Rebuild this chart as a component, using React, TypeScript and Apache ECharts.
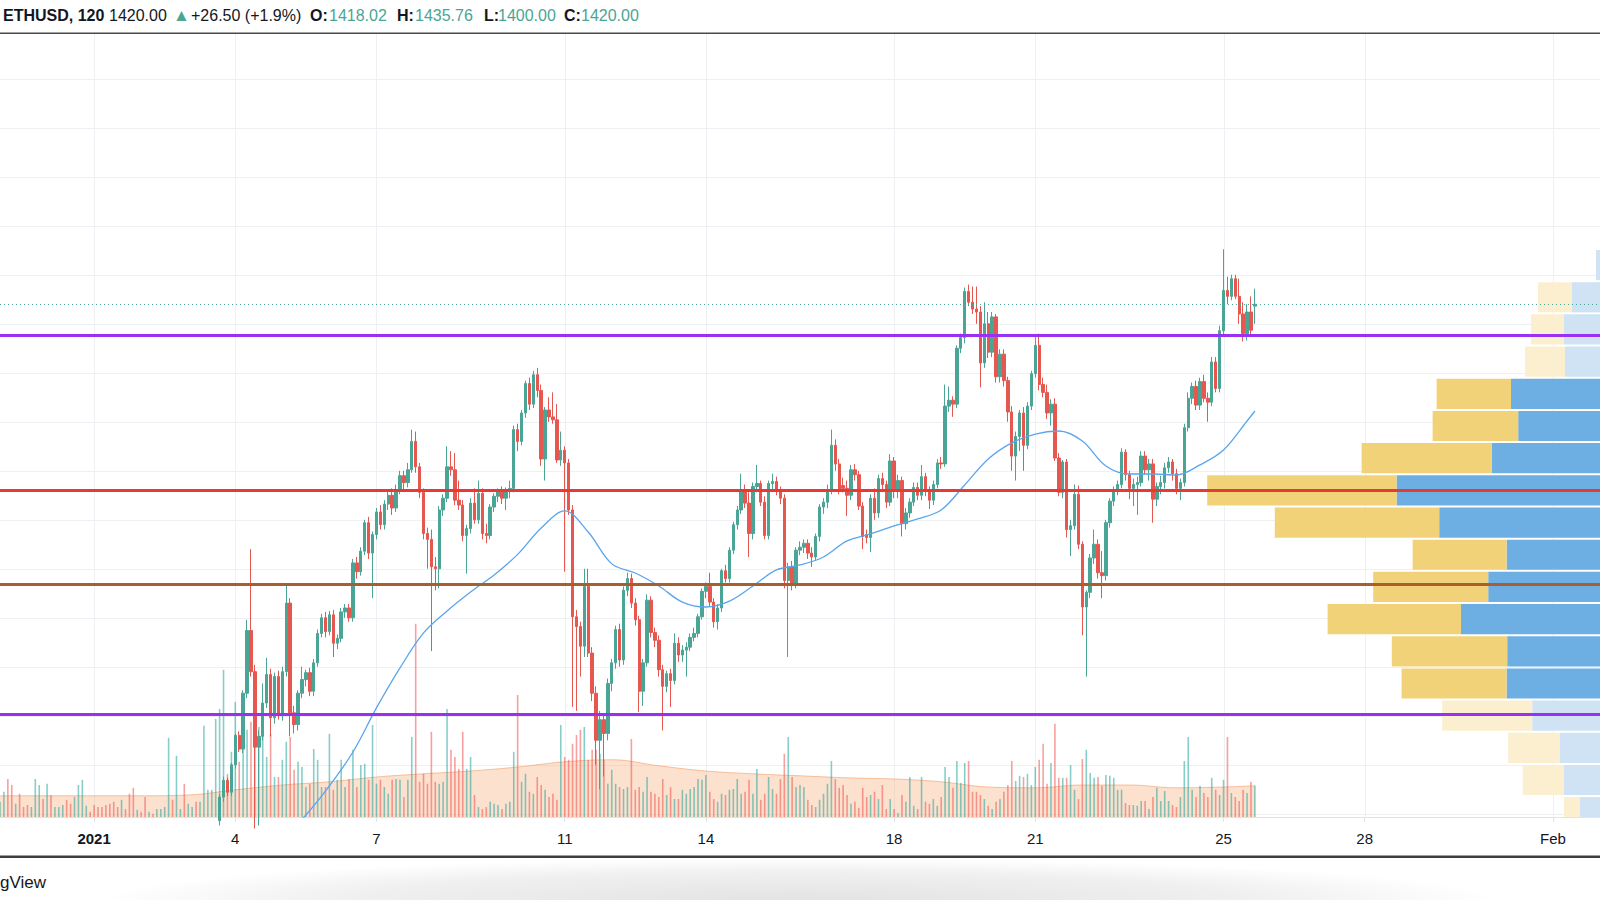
import React, { useEffect, useRef } from 'react';
import * as echarts from 'echarts';

// Time is measured in hours since 2021-01-01 00:00; one bar = 2 hours (ETHUSD, 120)
const barStepHours = 2;
const candleStartHour = 64; // first candle visible: 2021-01-03 16:00

// [open, high, low, close]
const candles: number[][] = [
  [893, 920, 888, 917], [917, 938, 912, 934], [934, 937, 918, 922], [922, 952, 918, 950], [950, 982, 946, 980],
  [980, 984, 963, 966], [966, 1026, 962, 1023], [1023, 1098, 1018, 1087], [1087, 1170, 1040, 1045], [1045, 1052, 885, 968],
  [968, 985, 888, 979], [979, 1033, 975, 1013], [1013, 1059, 1008, 1042], [1042, 1048, 979, 998], [998, 1044, 992, 1040],
  [1040, 1046, 996, 1000], [1000, 1050, 995, 1045], [1045, 1134, 1040, 1115], [1115, 1120, 979, 1003], [1003, 1010, 982, 991],
  [991, 1026, 985, 1023], [1023, 1050, 1018, 1037], [1037, 1047, 1030, 1044], [1044, 1049, 1020, 1025], [1025, 1058, 1020, 1054],
  [1054, 1088, 1050, 1084], [1084, 1104, 1080, 1100], [1100, 1106, 1080, 1086], [1086, 1107, 1082, 1103], [1103, 1108, 1060, 1074],
  [1074, 1083, 1068, 1079], [1079, 1110, 1075, 1106], [1106, 1114, 1100, 1110], [1110, 1114, 1096, 1100], [1100, 1160, 1096, 1156],
  [1156, 1162, 1140, 1147], [1147, 1172, 1143, 1168], [1168, 1200, 1164, 1197], [1197, 1203, 1160, 1166], [1166, 1188, 1120, 1185],
  [1185, 1212, 1180, 1208], [1208, 1215, 1190, 1195], [1195, 1220, 1190, 1216], [1216, 1230, 1210, 1225], [1225, 1232, 1205, 1212],
  [1212, 1236, 1208, 1230], [1230, 1250, 1226, 1245], [1245, 1250, 1230, 1238], [1238, 1258, 1233, 1251], [1251, 1292, 1248, 1280],
  [1280, 1290, 1248, 1254], [1254, 1258, 1222, 1228], [1228, 1232, 1180, 1186], [1186, 1192, 1150, 1180], [1180, 1190, 1066, 1152],
  [1152, 1162, 1128, 1150], [1150, 1214, 1130, 1210], [1210, 1226, 1204, 1222], [1222, 1275, 1218, 1254], [1254, 1270, 1245, 1251],
  [1251, 1268, 1215, 1220], [1220, 1240, 1210, 1215], [1215, 1220, 1178, 1184], [1184, 1195, 1145, 1191], [1191, 1222, 1186, 1217],
  [1217, 1232, 1196, 1200], [1200, 1240, 1196, 1227], [1227, 1232, 1180, 1186], [1186, 1196, 1176, 1184], [1184, 1216, 1180, 1213],
  [1213, 1227, 1208, 1224], [1224, 1232, 1218, 1229], [1229, 1234, 1216, 1222], [1222, 1233, 1210, 1229], [1229, 1240, 1222, 1232],
  [1232, 1296, 1228, 1292], [1292, 1298, 1270, 1280], [1280, 1312, 1276, 1309], [1309, 1342, 1304, 1339], [1339, 1345, 1312, 1318],
  [1318, 1352, 1314, 1348], [1348, 1355, 1325, 1332], [1332, 1338, 1255, 1262], [1262, 1315, 1240, 1312], [1312, 1325, 1300, 1305],
  [1305, 1330, 1298, 1302], [1302, 1318, 1258, 1261], [1261, 1290, 1255, 1271], [1271, 1275, 1147, 1258], [1258, 1262, 1205, 1210],
  [1210, 1215, 1009, 1101], [1101, 1108, 1005, 1091], [1091, 1096, 1040, 1071], [1071, 1150, 1060, 1132], [1132, 1150, 1060, 1064],
  [1064, 1070, 1015, 1023], [1023, 1030, 950, 975], [975, 1005, 925, 996], [996, 1000, 938, 982], [982, 1038, 975, 1033],
  [1033, 1058, 1025, 1054], [1054, 1092, 1048, 1088], [1088, 1094, 1050, 1057], [1057, 1132, 1052, 1128], [1128, 1146, 1122, 1140],
  [1140, 1145, 1110, 1115], [1115, 1120, 1092, 1098], [1098, 1102, 1004, 1025], [1025, 1058, 1010, 1054], [1054, 1124, 1050, 1118],
  [1118, 1122, 1080, 1085], [1085, 1090, 1070, 1077], [1077, 1082, 1040, 1047], [1047, 1052, 985, 1030], [1030, 1046, 1024, 1043],
  [1043, 1048, 1009, 1036], [1036, 1084, 1032, 1074], [1074, 1080, 1055, 1062], [1062, 1072, 1055, 1067], [1067, 1075, 1040, 1070],
  [1070, 1084, 1066, 1080], [1080, 1090, 1076, 1084], [1084, 1104, 1080, 1101], [1101, 1130, 1098, 1127], [1127, 1136, 1120, 1132],
  [1132, 1146, 1112, 1116], [1116, 1120, 1090, 1096], [1096, 1114, 1088, 1110], [1110, 1150, 1106, 1148], [1148, 1154, 1136, 1140],
  [1140, 1172, 1136, 1169], [1169, 1198, 1165, 1195], [1195, 1214, 1190, 1210], [1210, 1247, 1206, 1230], [1230, 1236, 1212, 1217],
  [1217, 1228, 1162, 1186], [1186, 1238, 1180, 1234], [1234, 1256, 1228, 1237], [1237, 1240, 1214, 1218], [1218, 1224, 1180, 1184],
  [1184, 1240, 1180, 1237], [1237, 1247, 1230, 1239], [1239, 1244, 1225, 1229], [1229, 1234, 1216, 1222], [1222, 1226, 1130, 1138],
  [1138, 1156, 1060, 1152], [1152, 1158, 1128, 1135], [1135, 1172, 1130, 1169], [1169, 1178, 1164, 1172], [1172, 1180, 1166, 1176],
  [1176, 1180, 1160, 1166], [1166, 1172, 1152, 1162], [1162, 1186, 1158, 1183], [1183, 1216, 1178, 1213], [1213, 1222, 1206, 1218],
  [1218, 1236, 1212, 1230], [1230, 1292, 1226, 1276], [1276, 1282, 1250, 1257], [1257, 1262, 1226, 1231], [1235, 1243, 1228, 1232],
  [1232, 1240, 1204, 1225], [1225, 1256, 1220, 1251], [1251, 1257, 1240, 1246], [1246, 1250, 1210, 1214], [1214, 1218, 1170, 1183],
  [1185, 1190, 1176, 1182], [1182, 1226, 1167, 1222], [1222, 1232, 1200, 1207], [1207, 1246, 1202, 1242], [1242, 1248, 1230, 1236],
  [1236, 1240, 1212, 1218], [1218, 1267, 1214, 1260], [1260, 1264, 1222, 1229], [1229, 1246, 1222, 1240], [1240, 1244, 1183, 1196],
  [1196, 1212, 1190, 1207], [1207, 1222, 1202, 1218], [1218, 1238, 1214, 1233], [1233, 1238, 1220, 1225], [1225, 1256, 1220, 1244],
  [1244, 1248, 1224, 1229], [1229, 1234, 1211, 1220], [1220, 1240, 1215, 1236], [1236, 1262, 1232, 1258], [1258, 1264, 1252, 1257],
  [1257, 1338, 1254, 1316], [1316, 1336, 1310, 1322], [1322, 1326, 1305, 1318], [1318, 1378, 1314, 1375], [1375, 1390, 1370, 1386],
  [1386, 1437, 1380, 1433], [1433, 1440, 1418, 1422], [1422, 1438, 1410, 1415], [1415, 1438, 1400, 1412], [1412, 1418, 1335, 1360],
  [1360, 1422, 1355, 1400], [1400, 1412, 1365, 1371], [1371, 1412, 1366, 1407], [1407, 1410, 1340, 1346], [1346, 1374, 1340, 1369],
  [1369, 1374, 1336, 1342], [1342, 1346, 1300, 1310], [1310, 1316, 1250, 1265], [1265, 1290, 1240, 1285], [1285, 1312, 1270, 1309],
  [1309, 1315, 1250, 1276], [1276, 1320, 1272, 1316], [1316, 1352, 1312, 1349], [1349, 1389, 1345, 1378], [1378, 1390, 1332, 1338],
  [1338, 1345, 1325, 1330], [1330, 1338, 1303, 1309], [1309, 1323, 1296, 1318], [1318, 1324, 1260, 1263], [1263, 1268, 1224, 1228],
  [1228, 1261, 1222, 1259], [1259, 1262, 1182, 1190], [1190, 1200, 1163, 1194], [1194, 1236, 1190, 1226], [1226, 1235, 1170, 1175],
  [1175, 1178, 1082, 1111], [1111, 1128, 1040, 1126], [1126, 1165, 1120, 1161], [1161, 1190, 1155, 1175], [1175, 1180, 1140, 1146],
  [1146, 1168, 1120, 1143], [1143, 1200, 1138, 1197], [1197, 1222, 1192, 1219], [1219, 1234, 1214, 1230], [1230, 1240, 1225, 1236],
  [1236, 1273, 1232, 1269], [1269, 1272, 1240, 1246], [1246, 1250, 1221, 1232], [1232, 1242, 1214, 1236], [1236, 1244, 1205, 1238],
  [1238, 1270, 1234, 1265], [1265, 1270, 1246, 1251], [1251, 1262, 1240, 1257], [1257, 1262, 1197, 1221], [1221, 1238, 1214, 1234],
  [1234, 1245, 1226, 1238], [1238, 1258, 1232, 1253], [1253, 1264, 1248, 1259], [1259, 1262, 1240, 1247], [1247, 1252, 1226, 1232],
  [1232, 1242, 1220, 1238], [1238, 1298, 1234, 1294], [1294, 1330, 1290, 1324], [1324, 1340, 1318, 1336], [1336, 1342, 1312, 1317],
  [1317, 1345, 1312, 1341], [1341, 1348, 1320, 1324], [1324, 1330, 1300, 1320], [1320, 1366, 1316, 1361], [1361, 1366, 1330, 1334],
  [1334, 1398, 1330, 1393], [1393, 1476, 1388, 1434], [1434, 1448, 1420, 1428], [1428, 1450, 1424, 1446], [1446, 1450, 1425, 1428],
  [1428, 1446, 1400, 1410], [1410, 1422, 1382, 1390], [1390, 1420, 1383, 1412], [1412, 1428, 1388, 1393.5], [1418.02, 1435.76, 1400, 1420],
];

// Volume bars (thousand ETH), one per 2h bar, starting 2020-12-30 00:00
const volumeStartHour = -48;
// direction of the bars that come before the first visible candle (u = up, d = down)
const earlyVolumeDirections = 'uudduddduu' + 'ududuuuddu' + 'uuuddddddd' + 'duddduddud' + 'uuuuduuduu' + 'duuuuu';
const volumes: number[] = [
  3.8, 6.3, 9.5, 8, 3.3, 5.8, 2.5, 3, 2.5, 9.5, 8, 4.5, 8.3, 5.5, 2.5, 2.5, 3, 4.3, 3.3, 5,
  8, 9.3, 2.8, 1.3, 3, 2.5, 2.5, 3, 3.3, 3.8, 2.5, 4.3, 2, 5.8, 7.3, 1.8, 1.3, 5, 1.3, 0.8,
  2, 2, 2.5, 19.8, 4.3, 15.3, 2, 8.3, 3.3, 2.5, 3.8, 3.8, 22.8, 6.8, 6.8, 24.5,
  27, 36.8, 10.8, 16.3, 28.8, 13.8, 25, 21.8, 23.8, 27.5,
  22.5, 28.3, 15, 20.8, 10, 10, 14.3, 18.8, 20, 11.8,
  13.8, 12.5, 7.5, 8.3, 17, 14.3, 7.5, 7.5, 20.8, 6.8,
  9.3, 14.3, 7.5, 9.5, 16.8, 7.5, 13, 13.3, 9.3, 23,
  8.3, 9.3, 7.5, 5.8, 9.3, 9.5, 9.3, 5, 9.3, 20,
  48.3, 8.8, 10.8, 8.3, 21.3, 8.8, 8.3, 8.8, 27, 16.8,
  15, 12, 21.3, 12, 15, 5.5, 2.5, 2, 2.5, 3.8,
  3.3, 3, 2, 3.3, 3.8, 16.3, 30.5, 8.8, 10.8, 6.3,
  5.8, 10, 8, 6.8, 5, 5.8, 4.3, 23, 15, 14.3,
  18.3, 20.5, 21.8, 22.5, 14.3, 16.8, 16.8, 15.8, 14.3, 8.3,
  11.8, 8.3, 7.5, 7, 7.5, 19.5, 6.8, 7.5, 6.3, 10,
  6.3, 5.8, 5, 9.5, 5.5, 7.5, 4.5, 4.5, 6.8, 5.8,
  7, 7.5, 9.5, 9.3, 10.5, 6.3, 4.5, 3.8, 5.8, 5.5,
  6.8, 7, 9.5, 5.8, 6.3, 9.3, 5.8, 12, 4.3, 5.8,
  10, 7, 5.8, 9.5, 15.8, 20, 10, 7.5, 8, 7.5,
  4.3, 3, 2.5, 4.3, 5.8, 8.3, 14, 9.5, 7.3, 8,
  5.5, 3.3, 3.8, 2.3, 7.3, 5, 5.5, 6.3, 4.5, 8,
  2, 4.5, 2, 1, 5.5, 3.8, 10, 2.8, 2, 10,
  3.8, 3.3, 4.5, 2.8, 5, 12.5, 10, 7.3, 14, 8.5,
  13.5, 14, 6.3, 6.3, 5.5, 4.5, 2.8, 2, 3.8, 4.5,
  6.3, 8, 14, 9, 10.3, 10, 10.8, 8, 12.5, 14.3,
  18.3, 8.3, 13.5, 23.3, 9.8, 9.8, 9.8, 13, 6.8, 4.5,
  14.5, 16.8, 11, 9.8, 10, 7.8, 10.5, 10.3, 9.8, 6.8,
  6.8, 3.5, 3, 3, 2.8, 4, 4, 2, 5, 7.3,
  4, 6.5, 4, 3, 2.5, 5, 14, 20, 6.8, 5,
  7.8, 6, 5, 9.8, 6.8, 5.5, 9.3, 20, 6, 5,
  4, 6.8, 6, 8.8, 7.8,
];

// Volume moving average: [hour, thousand ETH]
const volumeMA: number[][] = [
  [-48, 5.3], [-24, 5.3], [0, 5.3], [24, 5.3], [48, 5.5], [72, 6.8], [96, 8], [120, 8.8], [144, 10], [168, 10.8],
  [192, 11.5], [216, 12.5], [240, 13.8], [264, 14.3], [288, 12.8], [312, 11.5], [336, 10.8], [360, 10.3], [384, 9.8],
  [408, 9.5], [432, 8.8], [456, 7.5], [480, 7.3], [504, 8], [528, 8], [552, 7.3], [576, 7.5], [592, 7.8],
];

// Price moving average: [hour, USD]
const priceMA: number[][] = [
  [96, 875], [108, 898.8], [120, 928.4], [132, 963], [144, 1008], [156, 1048.8], [168, 1084.5], [180, 1107], [192, 1126.3],
  [204, 1143.7], [216, 1164.7], [228, 1191.6], [240, 1209], [252, 1187.5], [264, 1155], [276, 1145.7], [288, 1132.4],
  [300, 1116], [312, 1111], [324, 1117], [336, 1132.4], [348, 1148.8], [360, 1153.9], [372, 1162], [384, 1178.4],
  [396, 1185.5], [408, 1193.7], [420, 1200.8], [432, 1210], [444, 1235.5], [456, 1262], [468, 1278.4], [480, 1287.5],
  [492, 1290.6], [504, 1280.4], [516, 1254.9], [528, 1246.7], [540, 1246.7], [552, 1245.7], [564, 1256], [576, 1271.2],
  [588, 1300.8], [592, 1311],
];

// Visible-range volume profile (rows from the top), arbitrary volume units
const profileTopPrice = 1476.3;
const profileRowSize = 32.84;
const profileUp: number[] = [2, 14, 18, 17.5, 44.5, 40.9, 54.2, 101.7, 80.4, 46.7, 55.9, 69.5, 46.4, 46.7, 33.9, 20, 18, 10];
const profileDown: number[] = [0, 17, 16.5, 20, 37.2, 42.8, 65, 94.7, 82.2, 47, 57.5, 66.7, 57.7, 52.5, 45, 25.9, 20.7, 8];
const valueAreaRows = [4, 13];

// Horizontal levels drawn on the chart (purple, red, brown, purple)
const levelPrices = [1388, 1230, 1134, 1002];

// Axis ticks
const dayTickHours = [0, 72, 144, 240, 312, 408, 480, 576, 648, 744];
const dayTickLabels = ['2021', '4', '7', '11', '14', '18', '21', '25', '28', 'Feb'];
const priceGridLines = [900, 950, 1000, 1050, 1100, 1150, 1200, 1250, 1300, 1350, 1400, 1450, 1500, 1550, 1600, 1650];

const FONT = '"Liberation Sans", Arial, "DejaVu Sans", sans-serif';
const UP = '#4aa596';
const DOWN = '#e5574f';
const TEXT = '#131722';
const GRID = '#eef0f4';
const PRICE_MIN = 896.7;
const PRICE_MAX = 1695.7;
const X_MIN = -48;
const X_MAX = 768;

export default function App() {
  const ref = useRef<HTMLDivElement>(null);

  useEffect(() => {
    const el = ref.current;
    if (!el) return;
    const chart = echarts.init(el, undefined, { renderer: 'svg' });

    const candleData = candles.map((c, i) => [candleStartHour + i * barStepHours, c[0], c[3], c[2], c[1]]);

    const volumeData = volumes.map((v, i) => {
      const h = volumeStartHour + i * barStepHours;
      const n = (h - candleStartHour) / barStepHours;
      const up = n >= 0 && candles[n] ? candles[n][3] >= candles[n][0] : earlyVolumeDirections[i] === 'u';
      return {
        value: [h, v],
        itemStyle: { color: up ? 'rgba(38,166,154,0.55)' : 'rgba(239,83,80,0.55)' },
      };
    });

    const profileData = profileUp.map((u, i) => {
      const top = profileTopPrice - i * profileRowSize;
      const inVA = i >= valueAreaRows[0] && i <= valueAreaRows[1] ? 1 : 0;
      return [top, top - profileRowSize, u, profileDown[i], inVA];
    });

    const last = candles[candles.length - 1];
    const prev = candles[candles.length - 2];
    const change = last[3] - prev[3];
    const pct = (change / prev[3]) * 100;

    const hdr = (text: string, x: number, color: string, bold = false, size = 16) => ({
      type: 'text',
      x,
      y: 15,
      silent: true,
      style: {
        text,
        fill: color,
        fontSize: size,
        fontFamily: FONT,
        fontWeight: bold ? 'bold' : 'normal',
        verticalAlign: 'middle',
        align: 'left',
      },
    });

    const option: any = {
      animation: false,
      backgroundColor: '#ffffff',
      grid: [
        { left: 0, right: 0, top: 34, bottom: 83 },
        { left: 0, right: 0, top: 417, bottom: 83 },
      ],
      xAxis: [
        {
          type: 'value',
          gridIndex: 0,
          min: X_MIN,
          max: X_MAX,
          interval: 24,
          axisLine: { show: true, lineStyle: { color: '#e0e3eb', width: 1 } },
          axisTick: { show: true, customValues: dayTickHours, length: 5, lineStyle: { color: '#e0e3eb' } },
          axisLabel: {
            customValues: dayTickHours,
            margin: 14,
            fontSize: 15,
            fontFamily: FONT,
            color: TEXT,
            formatter: (v: number) => {
              const i = dayTickHours.indexOf(v);
              if (i < 0) return '';
              return i === 0 ? '{b|' + dayTickLabels[i] + '}' : dayTickLabels[i];
            },
            rich: { b: { fontWeight: 'bold', fontSize: 15, fontFamily: FONT, color: TEXT } },
          },
          splitLine: { show: false },
        },
        { type: 'value', gridIndex: 0, min: 0, max: 800, inverse: true, show: false },
        { type: 'value', gridIndex: 1, min: X_MIN, max: X_MAX, show: false },
      ],
      yAxis: [
        { type: 'value', gridIndex: 0, min: PRICE_MIN, max: PRICE_MAX, show: false },
        { type: 'value', gridIndex: 1, min: 0, max: 100, show: false },
      ],
      series: [
        {
          type: 'custom',
          name: 'vgrid',
          xAxisIndex: 0,
          yAxisIndex: 0,
          z: 0,
          silent: true,
          data: dayTickHours.map((h) => [h, PRICE_MIN]),
          renderItem: (params: any, api: any) => {
            const x = Math.round(api.coord([api.value(0), PRICE_MIN])[0]) + 0.5;
            const cs = params.coordSys;
            return {
              type: 'line',
              shape: { x1: x, y1: cs.y, x2: x, y2: cs.y + cs.height },
              style: { stroke: GRID, lineWidth: 1 },
            };
          },
        },
        {
          type: 'custom',
          name: 'hgrid',
          xAxisIndex: 0,
          yAxisIndex: 0,
          z: 0,
          silent: true,
          data: priceGridLines.map((p) => [0, p]),
          renderItem: (params: any, api: any) => {
            const y = Math.round(api.coord([0, api.value(1)])[1]) + 0.5;
            const cs = params.coordSys;
            return {
              type: 'line',
              shape: { x1: cs.x, y1: y, x2: cs.x + cs.width, y2: y },
              style: { stroke: GRID, lineWidth: 1 },
            };
          },
        },
        {
          type: 'line',
          name: 'Volume MA',
          xAxisIndex: 2,
          yAxisIndex: 1,
          z: 1,
          silent: true,
          smooth: 0.4,
          symbol: 'none',
          data: volumeMA,
          lineStyle: { color: 'rgba(240,150,95,0.55)', width: 1 },
          areaStyle: { color: 'rgba(245,170,118,0.5)' },
        },
        {
          type: 'bar',
          name: 'Volume',
          xAxisIndex: 2,
          yAxisIndex: 1,
          z: 2,
          silent: true,
          barWidth: 1.6,
          data: volumeData,
        },
        {
          type: 'custom',
          name: 'Volume profile',
          xAxisIndex: 1,
          yAxisIndex: 0,
          z: 2,
          silent: true,
          clip: true,
          encode: { x: 2, y: 0 },
          data: profileData,
          renderItem: (params: any, api: any) => {
            const top = api.value(0);
            const bottom = api.value(1);
            const up = api.value(2);
            const dn = api.value(3);
            const va = api.value(4);
            const pR = api.coord([0, top]);
            const pU = api.coord([up, bottom]);
            const pD = api.coord([up + dn, bottom]);
            const y = pR[1] + 1;
            const h = pU[1] - pR[1] - 2;
            return {
              type: 'group',
              children: [
                {
                  type: 'rect',
                  shape: { x: pU[0], y, width: pR[0] - pU[0], height: h },
                  style: { fill: va ? '#6eafe3' : '#cfe3f5' },
                },
                {
                  type: 'rect',
                  shape: { x: pD[0], y, width: pU[0] - pD[0], height: h },
                  style: { fill: va ? '#f2d279' : '#fcefcf' },
                },
              ],
            };
          },
        },
        {
          type: 'candlestick',
          name: 'ETHUSD',
          xAxisIndex: 0,
          yAxisIndex: 0,
          z: 3,
          barWidth: 2.9,
          clip: true,
          encode: { x: 0, y: [1, 2, 3, 4] },
          data: candleData,
          itemStyle: {
            color: UP,
            color0: DOWN,
            borderColor: UP,
            borderColor0: DOWN,
            borderWidth: 1,
          },
          markLine: {
            silent: true,
            symbol: ['none', 'none'],
            label: { show: false },
            data: [
              { yAxis: last[3], lineStyle: { color: UP, width: 1, type: [1, 3] } },
              { yAxis: levelPrices[0], lineStyle: { color: '#9a30f2', width: 3, type: 'solid' } },
              { yAxis: levelPrices[1], lineStyle: { color: '#e63a34', width: 2.8, type: 'solid' } },
              { yAxis: levelPrices[2], lineStyle: { color: '#a85f2c', width: 2.8, type: 'solid' } },
              { yAxis: levelPrices[3], lineStyle: { color: '#9a30f2', width: 3, type: 'solid' } },
            ],
          },
        },
        {
          type: 'line',
          name: 'MA',
          xAxisIndex: 0,
          yAxisIndex: 0,
          z: 4,
          silent: true,
          smooth: 0.35,
          symbol: 'none',
          clip: true,
          data: priceMA,
          lineStyle: { color: '#5aa5ee', width: 1.3 },
        },
      ],
      graphic: {
        elements: [
          hdr('ETHUSD, 120', 3, TEXT, true),
          hdr(last[3].toFixed(2), 109, TEXT),
          hdr('▲', 173, UP, false, 17),
          hdr((change >= 0 ? '+' : '') + change.toFixed(2) + ' (' + (pct >= 0 ? '+' : '') + pct.toFixed(1) + '%)', 191, TEXT),
          hdr('O:', 310, TEXT, true),
          hdr(last[0].toFixed(2), 329, UP),
          hdr('H:', 397, TEXT, true),
          hdr(last[1].toFixed(2), 415, UP),
          hdr('L:', 484, TEXT, true),
          hdr(last[2].toFixed(2), 498, UP),
          hdr('C:', 564, TEXT, true),
          hdr(last[3].toFixed(2), 581, UP),
          { type: 'rect', x: 0, y: 32.5, silent: true, shape: { width: 1600, height: 1.6 }, style: { fill: '#4a4a4a' } },
          { type: 'rect', x: 0, y: 855.5, silent: true, shape: { width: 1600, height: 2.4 }, style: { fill: '#3e3e3e' } },
          {
            type: 'rect',
            x: 100,
            y: 858,
            silent: true,
            z: -1,
            shape: { width: 1400, height: 84 },
            style: {
              fill: new echarts.graphic.RadialGradient(0.5, 0.5, 0.5, [
                { offset: 0, color: 'rgba(0,0,0,0.11)' },
                { offset: 0.65, color: 'rgba(0,0,0,0.06)' },
                { offset: 1, color: 'rgba(0,0,0,0)' },
              ]),
            },
          },
          {
            type: 'text',
            x: 0,
            y: 882,
            silent: true,
            style: {
              text: 'gView',
              fill: TEXT,
              fontSize: 17,
              fontFamily: FONT,
              align: 'left',
              verticalAlign: 'middle',
            },
          },
        ],
      },
    };

    chart.setOption(option);
    return () => chart.dispose();
  }, []);

  return (
    <div
      ref={ref}
      style={{ position: 'fixed', left: 0, top: 0, width: 1600, height: 900, background: '#ffffff' }}
    />
  );
}
